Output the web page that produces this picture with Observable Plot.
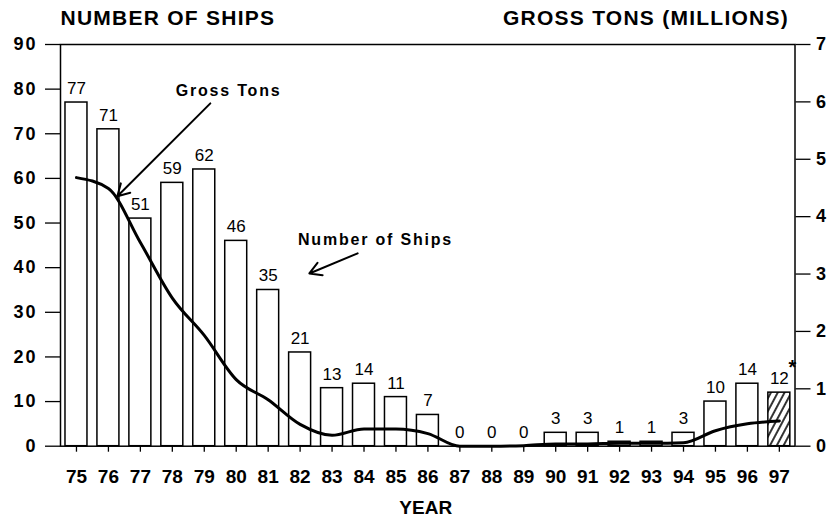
<!DOCTYPE html>
<html>
<head>
<meta charset="utf-8">
<script src="https://cdn.jsdelivr.net/npm/d3@7"></script>
<script src="https://cdn.jsdelivr.net/npm/@observablehq/plot@0.6"></script>
<style>
  html, body { margin: 0; padding: 0; background: white; }
</style>
</head>
<body>
<div id="chart"></div>
<script>
// ---- data ----
const years = [75, 76, 77, 78, 79, 80, 81, 82, 83, 84, 85, 86, 87, 88, 89, 90, 91, 92, 93, 94, 95, 96, 97];
const ships = [77, 71, 51, 59, 62, 46, 35, 21, 13, 14, 11, 7, 0, 0, 0, 3, 3, 1, 1, 3, 10, 14, 12];
const grossTons = [4.68, 4.49, 3.55, 2.58, 1.93, 1.16, 0.81, 0.38, 0.19, 0.30, 0.30, 0.22, 0.0, 0.0, 0.01, 0.04, 0.04, 0.05, 0.05, 0.06, 0.27, 0.39, 0.44];
const projectedYear = 97;
const leftTicks = [0, 10, 20, 30, 40, 50, 60, 70, 80, 90];
const rightTicks = [0, 1, 2, 3, 4, 5, 6, 7];
const leftTitle = "NUMBER OF SHIPS";
const rightTitle = "GROSS TONS (MILLIONS)";
const xTitle = "YEAR";
// annotations (in data units: year, number-of-ships scale)
const annotationText = ["Gross Tons", "Number of Ships"];
const annotationX = [79.76, 84.36];
const annotationY = [79.7, 46.3];
const arrowFromX = [79.19, 83.80];
const arrowFromY = [76.8, 43.2];
const arrowToX = [76.28, 82.29];
const arrowToY = [56.0, 38.7];

// ---- derived tables ----
const shipMax = 90, tonMax = 7;
const toShipScale = v => v * shipMax / tonMax;
const data = years.map((year, i) => ({year, ships: ships[i], tons: grossTons[i]}));
const normalBars = data.filter(d => d.year !== projectedYear);
const projectedBars = data.filter(d => d.year === projectedYear);
const annotations = annotationText.map((t, i) => ({t, x: annotationX[i], y: annotationY[i]}));
const arrows = arrowFromX.map((x, i) => ({x1: x, y1: arrowFromY[i], x2: arrowToX[i], y2: arrowToY[i]}));
const half = 0.344;

const font = "'Liberation Sans', Arial, Helvetica, sans-serif";

// defs mark: diagonal hatch pattern
const hatchDefs = () => {
  const defs = d3.create("svg:defs");
  const pat = defs.append("svg:pattern")
    .attr("id", "hatch")
    .attr("patternUnits", "userSpaceOnUse")
    .attr("width", 6)
    .attr("height", 6)
    .attr("patternTransform", "rotate(28)");
  pat.append("svg:rect").attr("width", 6).attr("height", 6).attr("fill", "white");
  pat.append("svg:line").attr("x1", 1).attr("y1", -1).attr("x2", 1).attr("y2", 7).attr("stroke", "black").attr("stroke-width", 1.6);
  return defs.node();
};

const chart = Plot.plot({
  width: 828,
  height: 522,
  marginLeft: 60,
  marginRight: 33.5,
  marginTop: 44,
  marginBottom: 76.3,
  style: {fontFamily: font, background: "white", color: "black", overflow: "visible"},
  x: {domain: [74.5, 97.49]},
  y: {domain: [0, shipMax]},
  marks: [
    hatchDefs,
    Plot.rectY(normalBars, {x1: d => d.year - half, x2: d => d.year + half, y: "ships", fill: "white", stroke: "black", strokeWidth: 1.5}),
    Plot.rectY(projectedBars, {x1: d => d.year - half, x2: d => d.year + half, y: "ships", fill: "url(#hatch)", stroke: "black", strokeWidth: 1.5}),
    Plot.line(data, {x: "year", y: d => toShipScale(d.tons), curve: "monotone-x", stroke: "black", strokeWidth: 3}),
    Plot.text(data, {x: "year", y: "ships", text: d => String(d.ships), dy: -14, lineAnchor: "middle", fontSize: 17}),
    Plot.text(projectedBars, {x: "year", y: "ships", text: () => "*", dx: 13, dy: -25, lineAnchor: "middle", fontSize: 20, fontWeight: "bold"}),
    Plot.frame({stroke: "black", strokeWidth: 1.5}),
    Plot.axisX(years, {anchor: "bottom", tickSize: 6, tickPadding: 17, fontSize: 19, fontWeight: "bold", tickFormat: d => String(d), label: null, strokeWidth: 1.3}),
    Plot.axisY(leftTicks, {anchor: "left", tickSize: 15, tickPadding: 8, fontSize: 18, fontWeight: "bold", label: null, strokeWidth: 1.3}),
    Plot.axisY(rightTicks.map(toShipScale), {anchor: "right", tickSize: 15, tickPadding: 6, fontSize: 18, fontWeight: "bold", tickFormat: d => String(Math.round(d * tonMax / shipMax)), label: null, strokeWidth: 1.3}),
    Plot.text(annotations, {x: "x", y: "y", text: "t", fontSize: 16, fontWeight: "bold", lineAnchor: "middle"}),
    Plot.arrow(arrows, {x1: "x1", y1: "y1", x2: "x2", y2: "y2", stroke: "black", strokeWidth: 2, headLength: 10}),
    Plot.text([leftTitle], {frameAnchor: "top-left", textAnchor: "start", dy: -26, lineAnchor: "middle", fontSize: 21, fontWeight: "bold"}),
    Plot.text([rightTitle], {frameAnchor: "top-right", textAnchor: "end", dx: -6, dy: -26, lineAnchor: "middle", fontSize: 21, fontWeight: "bold"}),
    Plot.text([xTitle], {frameAnchor: "bottom", dx: -2, dy: 62, lineAnchor: "middle", fontSize: 19, fontWeight: "bold"})
  ]
});

// letter spacing tweaks (select texts by content)
const svg = d3.select(chart);
const byContent = (list) => svg.selectAll("text").filter(function() { return list.includes(this.textContent); });
byContent([leftTitle, rightTitle]).attr("letter-spacing", "1.25");
byContent(annotationText).attr("letter-spacing", "1.8");
svg.selectAll('g[aria-label="y-axis tick label"] text').attr("letter-spacing", "2");

document.getElementById("chart").appendChild(chart);
</script>
</body>
</html>
